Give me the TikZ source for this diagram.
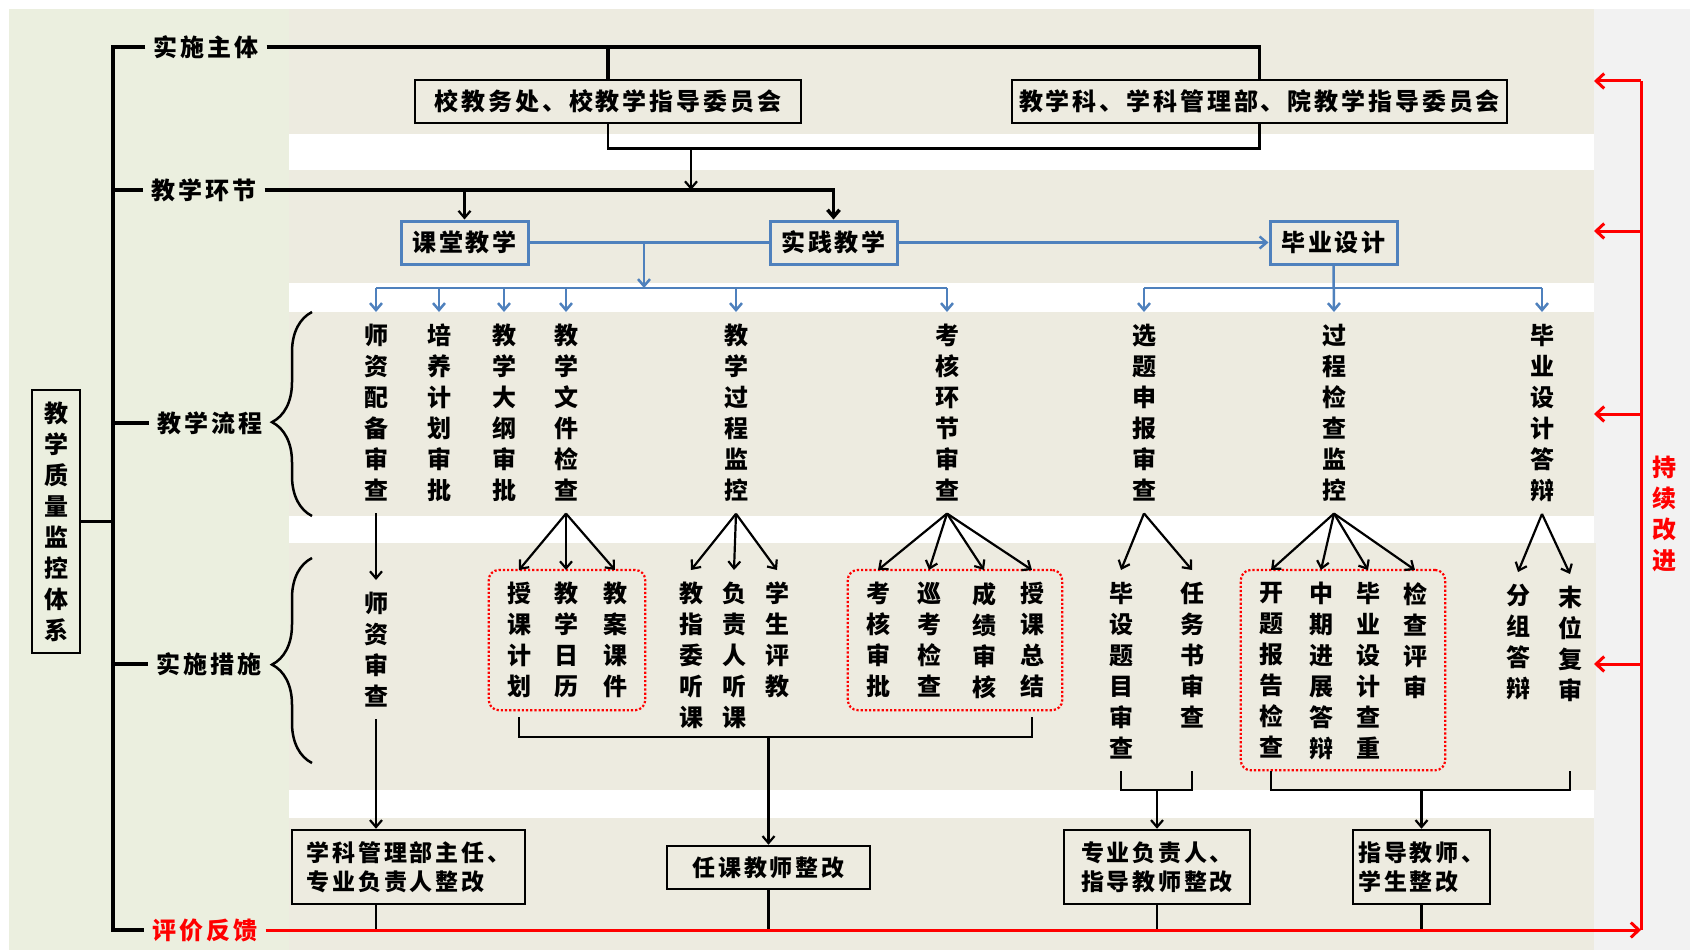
\documentclass[tikz,border=0pt]{standalone}
\usepackage{fontspec}
\setmainfont{Noto Sans CJK SC}
\newfontfamily\cjkfont{Noto Sans CJK SC}
\newfontfamily\cjkwide{Noto Sans CJK SC}[LetterSpace=12]
\usetikzlibrary{arrows.meta,fit,decorations.pathreplacing,calc}

\definecolor{bandbg}{RGB}{237,235,224}
\definecolor{sidebg}{RGB}{235,239,223}
\definecolor{edgebg}{RGB}{242,242,242}
\definecolor{flowblue}{RGB}{79,129,189}
\definecolor{fbred}{RGB}{255,0,0}

\tikzset{
  lbl/.style={font=\cjkwide\bfseries\fontsize{24}{24}\selectfont, inner sep=8pt},
  hdrbox/.style={draw, line width=2.5pt, minimum height=43pt, inner sep=0pt,
    font=\cjkwide\bfseries\fontsize{24}{24}\selectfont},
  stagebox/.style={draw=flowblue, line width=3pt, minimum width=127pt, minimum height=43pt,
    inner sep=0pt, font=\cjkwide\bfseries\fontsize{24}{24}\selectfont},
  vcol/.style={align=center, anchor=north, inner xsep=2pt, inner ysep=12pt,
    font=\cjkfont\bfseries\fontsize{24}{31}\selectfont},
  outbox/.style={draw, line width=2.5pt, minimum height=74pt, align=left, inner sep=0pt,
    font=\cjkwide\bfseries\fontsize{23}{29}\selectfont},
  grp/.style={draw=fbred, dotted, line width=2.2pt, rounded corners=10pt,
    inner xsep=16pt, inner ysep=0pt},
  tip/.style={-{Straight Barb[length=7pt,width=12pt]}},
  link/.style={tip, line width=2.2pt},
  wire/.style={line width=2.5pt},
  trunk/.style={line width=3.5pt},
  bline/.style={draw=flowblue, line width=2.5pt},
  blink/.style={bline, tip},
  fb/.style={draw=fbred, line width=3pt},
  fblink/.style={fb, -{Straight Barb[length=8pt,width=15pt]}},
  brc/.style={decorate, decoration={brace, amplitude=40pt, aspect=#1}, line width=2.5pt},
}

\begin{document}
\begin{tikzpicture}[x=1pt, y=-1pt]
        \useasboundingbox (0,0) rectangle (1690,950);
        \fill[white] (0,0) rectangle (1690,950);
        \fill[sidebg] (9,9) rectangle (289,950);
        \fill[edgebg] (1594,9) rectangle (1690,950);
        \fill[bandbg] (289,9) rectangle (1594,134);
        \fill[bandbg] (289,170) rectangle (1594,283);
        \fill[bandbg] (289,312) rectangle (1594,516);
        \fill[bandbg] (289,543) rectangle (1596,790);
        \fill[bandbg] (289,818) rectangle (1594,950);

        \node[draw, line width=2.5pt, minimum width=48pt, minimum height=263pt, inner sep=0pt,
          align=center, font=\cjkfont\bfseries\fontsize{24}{31}\selectfont] (title) at (56,521.5)
          {教\\学\\质\\量\\监\\控\\体\\系};

        \node[lbl] (l1) at (206,47) {实施主体};
        \node[lbl] (l2) at (204,190) {教学环节};
        \node[lbl] (l3) at (210,423) {教学流程};
        \node[lbl] (l4) at (209,664) {实施措施};
        \node[lbl, text=fbred] (l5) at (205,930) {评价反馈};

        \coordinate (spine) at (113,0);
        \draw[trunk] (l1.west) -- (l1.west -| spine) -- (l5.west -| spine) -- (l5.west);
        \foreach \l in {l2,l3,l4}
          \draw[trunk] (\l.west -| spine) -- (\l.west);
        \draw[trunk] (title.east) -- (title.east -| spine);

        \node[hdrbox, minimum width=386pt] (r1) at (608,101.5) {校教务处、校教学指导委员会};
        \node[hdrbox, minimum width=495pt] (r2) at (1259.5,101.5) {教学科、学科管理部、院教学指导委员会};

        \node[stagebox] (c1) at (464.5,242.5) {课堂教学};
        \node[stagebox] (c2) at (833.5,242.5) {实践教学};
        \node[stagebox] (c3) at (1333.5,242.5) {毕业设计};

        \node[vcol] (p1) at (376,312) {师\\资\\配\\备\\审\\查};
        \node[vcol] (p2) at (439,312) {培\\养\\计\\划\\审\\批};
        \node[vcol] (p3) at (504,312) {教\\学\\大\\纲\\审\\批};
        \node[vcol] (p4) at (566,312) {教\\学\\文\\件\\检\\查};
        \node[vcol] (p5) at (736,312) {教\\学\\过\\程\\监\\控};
        \node[vcol] (p6) at (947,312) {考\\核\\环\\节\\审\\查};
        \node[vcol] (p7) at (1144,312) {选\\题\\申\\报\\审\\查};
        \node[vcol] (p8) at (1334,312) {过\\程\\检\\查\\监\\控};
        \node[vcol] (p9) at (1542,312) {毕\\业\\设\\计\\答\\辩};

        \node[vcol] (m1) at (376,580) {师\\资\\审\\查};
        \node[vcol] (m2) at (519,570) {授\\课\\计\\划};
        \node[vcol] (m3) at (566,570) {教\\学\\日\\历};
        \node[vcol] (m4) at (615,570) {教\\案\\课\\件};
        \node[vcol] (m5) at (691,570) {教\\指\\委\\听\\课};
        \node[vcol] (m6) at (734,570) {负\\责\\人\\听\\课};
        \node[vcol] (m7) at (777,570) {学\\生\\评\\教};
        \node[vcol] (m8) at (878,570) {考\\核\\审\\批};
        \node[vcol] (m9) at (929,570) {巡\\考\\检\\查};
        \node[vcol] (m10) at (984,570) {成\\绩\\审\\核};
        \node[vcol] (m11) at (1032,570) {授\\课\\总\\结};
        \node[vcol] (m12) at (1121,570) {毕\\设\\题\\目\\审\\查};
        \node[vcol] (m13) at (1192,570) {任\\务\\书\\审\\查};
        \node[vcol] (m14) at (1271,570) {开\\题\\报\\告\\检\\查};
        \node[vcol] (m15) at (1321,570) {中\\期\\进\\展\\答\\辩};
        \node[vcol] (m16) at (1368,570) {毕\\业\\设\\计\\查\\重};
        \node[vcol] (m17) at (1415,570) {检\\查\\评\\审};
        \node[vcol] (m18) at (1518,572) {分\\组\\答\\辩};
        \node[vcol] (m19) at (1570,574) {末\\位\\复\\审};

        \node[grp, fit=(m2)(m4)] (g1) {};
        \node[grp, fit=(m8)(m11)] (g2) {};
        \node[grp, fit=(m14)(m17)] (g3) {};

        \node[outbox, minimum width=233pt] (b1) at (408.5,867) {学科管理部主任、\\专业负责人整改};
        \node[outbox, minimum width=203pt, minimum height=43pt] (b2) at (768.5,867.5) {任课教师整改};
        \node[outbox, minimum width=186pt] (b3) at (1157,867) {专业负责人、\\指导教师整改};
        \node[outbox, minimum width=137pt] (b4) at (1421.5,867) {指导教师、\\学生整改};

        \node[font=\cjkfont\bfseries\fontsize{24}{31}\selectfont, text=fbred, align=center] (keep)
          at (1664,514) {持\\续\\改\\进};

        \draw[brc=0.46] (312,516) -- (312,312);
        \draw[brc=0.48] (312,763) -- (312,558);

        \draw[trunk] (l1.east) -| (r2.north);
        \draw[trunk] (r1.north |- l1.east) -- (r1.north);
        \draw[wire] (r1.south) -- ++(0,24) -| (r2.south);
        \coordinate (merge) at (691,147);
        \draw[link] (merge) -- (merge |- l2.east);
        \draw[link, line width=3.5pt] (l2.east) -| (c2.north);
        \draw[link] (c1.north |- l2.east) -- (c1.north);

        \coordinate (busL) at (644,288);
        \draw[bline] (c1.east) -- (c2.west);
        \draw[blink] (c2.east) -- (c3.west);
        \draw[blink] (busL |- c1.east) -- (busL);
        \draw[bline] (p1.north |- busL) -- (p6.north |- busL);
        \foreach \p in {p1,p2,p3,p4,p5,p6}
          \draw[blink] (\p.north |- busL) -- (\p.north);
        \draw[blink] (c3.south) -- (p8.north);
        \draw[bline] (p7.north |- busL) -- (p9.north |- busL);
        \foreach \p in {p7,p9}
          \draw[blink] (\p.north |- busL) -- (\p.north);

        \draw[link] (p1.south) -- (m1.north);
        \foreach \m in {m2,m3,m4} \draw[link] (p4.south) -- (\m.north);
        \foreach \m in {m5,m6,m7} \draw[link] (p5.south) -- (\m.north);
        \foreach \m in {m8,m9,m10,m11} \draw[link] (p6.south) -- (\m.north);
        \foreach \m in {m12,m13} \draw[link] (p7.south) -- (\m.north);
        \foreach \m in {m14,m15,m16,m17} \draw[link] (p8.south) -- (\m.north);
        \foreach \m in {m18,m19} \draw[link] (p9.south) -- (\m.north);

        \coordinate (brA) at (0,737);
        \coordinate (brB) at (0,790);
        \draw[wire] ($(g1.south -| m2)+(0,6)$) |- (brA -| m11) -- ($(g2.south -| m11)+(0,6)$);
        \draw[link] (b2.north |- brA) -- (b2.north);
        \draw[wire] (m12.south) |- (brB -| m13) -- (m13 |- m12.south);
        \draw[link] (b3.north |- brB) -- (b3.north);
        \draw[wire] (g3.south -| m14) |- (brB -| m19) -- (m19 |- g3.south);
        \draw[link] (b4.north |- brB) -- (b4.north);
        \draw[link] (m1.south) -- (m1.south |- b1.north);

        \draw[wire] (m1 |- b1.south) -- (m1 |- l5.east);
        \foreach \b in {b2,b3,b4}
          \draw[wire] (\b.south) -- (\b.south |- l5.east);

        \coordinate (fbtop) at (1641,81);
        \draw[fb] (fbtop) -- (fbtop |- l5.east);
        \draw[fblink] (l5.east) -- (fbtop |- l5.east);
        \foreach \y in {81,231,414,664}
          \draw[fblink] (1641,\y) -- ++(-47,0);
\end{tikzpicture}
\end{document}
